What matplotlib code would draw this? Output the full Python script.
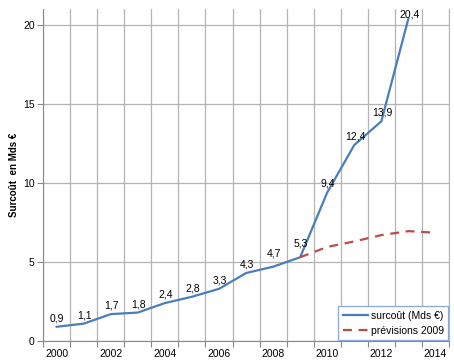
import matplotlib
matplotlib.use('Agg')
import matplotlib.pyplot as plt
import numpy as np

plt.rcParams['font.family'] = ['Liberation Sans', 'DejaVu Sans']

# surcoût réel (Mds €)
years = [2000, 2001, 2002, 2003, 2004, 2005, 2006, 2007, 2008, 2009, 2010, 2011, 2012, 2013]
surcout = [0.9, 1.1, 1.7, 1.8, 2.4, 2.8, 3.3, 4.3, 4.7, 5.3, 9.4, 12.4, 13.9, 20.4]

# prévisions 2009
prev_years = [2009, 2010, 2011, 2012, 2013, 2014]
previsions = [5.3, 5.95, 6.3, 6.7, 6.95, 6.85]

blue = '#4A7EBB'
red = '#BE4B48'
grid_c = '#b4b4b4'

fig = plt.figure(figsize=(4.54, 3.62), dpi=100)
ax = fig.add_axes([0.095, 0.058, 0.894, 0.917])

ax.plot(years, surcout, color=blue, lw=1.6, label='surcoût (Mds €)', zorder=3)
ax.plot(prev_years, previsions, color=red, lw=1.6, ls=(0, (4, 3)), label='prévisions 2009', zorder=3)

# labels de valeurs
for x, v in zip(years, surcout):
    if v == max(surcout):
        off = -1
    elif x in (2008, 2009):
        off = 6
    else:
        off = 2.5
    ax.annotate(f'{v:.1f}'.replace('.', ','), (x, v), xytext=(0.5, off),
                textcoords='offset points', ha='center', va='bottom',
                fontsize=7.5, color='black', annotation_clip=False)

ax.set_xlim(1999.5, 2014.5)
ax.set_ylim(0, 21)

# ticks at category boundaries, labels at even years
bounds = np.arange(1999.5, 2015, 1)
ax.set_xticks(bounds)
ax.set_xticklabels([])
ax.set_xticks(np.arange(2000, 2015, 2), minor=True)
ax.set_xticklabels([str(y) for y in range(2000, 2015, 2)], minor=True)
ax.tick_params(axis='x', which='major', length=4, color='#888888', direction='out')
ax.tick_params(axis='x', which='minor', length=0, labelsize=7.5, pad=6)

ax.set_yticks([0, 5, 10, 15, 20])
ax.tick_params(axis='y', length=4, color='#888888', labelsize=7.5, pad=2)

ax.grid(True, which='major', color=grid_c, lw=0.9, zorder=0)
ax.set_axisbelow(True)

ax.spines['top'].set_visible(False)
ax.spines['right'].set_color(grid_c)
ax.spines['left'].set_color('#888888')
ax.spines['bottom'].set_color('#888888')

ax.set_ylabel('Surcoût  en Mds €', fontsize=7, fontweight='bold', labelpad=3)

leg = ax.legend(loc='lower right', fontsize=7.5, frameon=True, fancybox=False,
                borderaxespad=0.1, handlelength=2.4, handletextpad=0.3,
                labelspacing=0.5, borderpad=0.4)
leg.get_frame().set_edgecolor('#8aa8d8')
leg.get_frame().set_linewidth(0.9)
leg.get_frame().set_alpha(1)

fig.savefig('out.png', dpi=100)
